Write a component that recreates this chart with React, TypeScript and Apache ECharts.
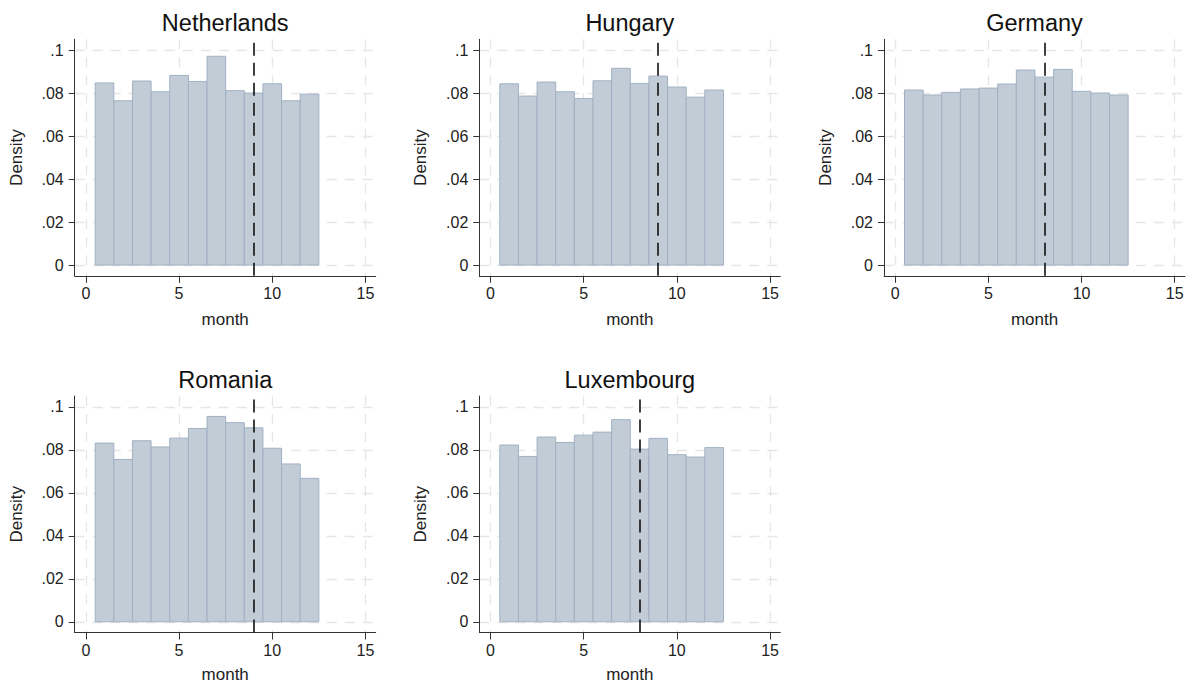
import React, { useEffect, useRef } from "react";
import * as echarts from "echarts";

// ---- Data ----
const countries = ["Netherlands", "Hungary", "Germany", "Romania", "Luxembourg"];
const months = [1, 2, 3, 4, 5, 6, 7, 8, 9, 10, 11, 12];
const netherlands = [0.0847, 0.0764, 0.0856, 0.0806, 0.0882, 0.0854, 0.0971, 0.0811, 0.08, 0.0843, 0.0764, 0.0795];
const hungary = [0.0843, 0.0786, 0.0851, 0.0806, 0.0775, 0.0857, 0.0915, 0.0845, 0.0879, 0.0828, 0.0781, 0.0814];
const germany = [0.0814, 0.0791, 0.0803, 0.0819, 0.0823, 0.0842, 0.0907, 0.0874, 0.091, 0.0808, 0.08, 0.0791];
const romania = [0.0831, 0.0755, 0.0842, 0.0813, 0.0854, 0.0899, 0.0955, 0.0926, 0.0902, 0.0807, 0.0734, 0.0667];
const luxembourg = [0.0822, 0.0769, 0.0859, 0.0834, 0.0868, 0.0882, 0.094, 0.0803, 0.0853, 0.0777, 0.0766, 0.081];
const cutoffMonths = [9, 9, 8, 9, 8];
const xTicks = [0, 5, 10, 15];
const yTicks = [0, 0.02, 0.04, 0.06, 0.08, 0.1];
const xAxisTitle = "month";
const yAxisTitle = "Density";

const densities = [netherlands, hungary, germany, romania, luxembourg];

// ---- Layout ----
const colLeft = [74.7, 479.3, 884];
const rowTop = [39.3, 396];
const monthGap = [36, 34];
const plotW = 301;
const plotH = 236.5;
const FONT = "'Liberation Sans', Arial, sans-serif";
const BAR_FILL = "#c1ccd7";
const BAR_STROKE = "#a1b1c3";
const GRID_COLOR = "#e6e6e6";
const AXIS_COLOR = "#333333";

export default function App() {
  const ref = useRef<HTMLDivElement>(null);

  useEffect(() => {
    if (!ref.current) return;
    const chart = echarts.init(ref.current, undefined, { renderer: "svg" });

    const grids: any[] = [];
    const xAxes: any[] = [];
    const yAxes: any[] = [];
    const titles: any[] = [];
    const series: any[] = [];

    countries.forEach((name, i) => {
      const col = i % 3;
      const row = Math.floor(i / 3);
      const left = colLeft[col];
      const top = rowTop[row];
      grids.push({
        left,
        top,
        width: plotW,
        height: plotH,
        containLabel: false,
        outerBoundsMode: "none",
      });
      titles.push({
        text: name,
        left: left + plotW / 2,
        top: top - 28,
        padding: 0,
        textAlign: "center",
        textStyle: { fontFamily: FONT, fontSize: 23.5, fontWeight: "normal", color: "#111" },
      });
      xAxes.push({
        type: "value",
        gridIndex: i,
        min: -0.6,
        max: 15.55,
        name: xAxisTitle,
        nameLocation: "middle",
        nameGap: monthGap[row],
        nameTextStyle: { fontFamily: FONT, fontSize: 17, lineHeight: 16, color: "#222" },
        axisLine: { show: true, onZero: false, lineStyle: { color: AXIS_COLOR, width: 1 } },
        axisTick: { show: true, length: 7, customValues: xTicks, lineStyle: { color: AXIS_COLOR } },
        axisLabel: {
          customValues: xTicks,
          margin: 10,
          fontFamily: FONT,
          fontSize: 16,
          color: "#222",
          showMinLabel: true,
          showMaxLabel: true,
        },
        splitLine: { show: true, lineStyle: { color: GRID_COLOR, width: 1.3, type: [10, 8] } },
      });
      yAxes.push({
        type: "value",
        gridIndex: i,
        min: -0.005,
        max: 0.105,
        name: yAxisTitle,
        nameLocation: "middle",
        nameGap: 50,
        nameTextStyle: { fontFamily: FONT, fontSize: 17, color: "#222" },
        axisLine: { show: true, onZero: false, lineStyle: { color: AXIS_COLOR, width: 1 } },
        axisTick: { show: true, length: 6, customValues: yTicks, lineStyle: { color: AXIS_COLOR } },
        axisLabel: {
          customValues: yTicks,
          margin: 11,
          fontFamily: FONT,
          fontSize: 16,
          color: "#222",
          formatter: (v: number) => (v === 0 ? "0" : String(Number(v.toFixed(2))).replace(/^0\./, ".")),
        },
        splitLine: { show: true, lineStyle: { color: GRID_COLOR, width: 1.3, type: [10, 8] } },
      });
      series.push({
        type: "custom",
        xAxisIndex: i,
        yAxisIndex: i,
        encode: { x: 0, y: 1 },
        data: months.map((m, k) => [m, densities[i][k]]),
        renderItem: (params: any, api: any) => {
          const x = api.value(0);
          const y = api.value(1);
          const p0 = api.coord([x - 0.5, y]);
          const p1 = api.coord([x + 0.5, 0]);
          return {
            type: "rect",
            shape: { x: p0[0], y: p0[1], width: p1[0] - p0[0], height: p1[1] - p0[1] },
            style: { fill: BAR_FILL, stroke: BAR_STROKE, lineWidth: 1 },
          };
        },
        markLine: {
          silent: true,
          symbol: ["none", "none"],
          label: { show: false },
          lineStyle: { color: "#111", width: 1.6, type: [13, 7] },
          data: [{ xAxis: cutoffMonths[i] }],
        },
      });
    });

    chart.setOption({
      animation: false,
      backgroundColor: "#ffffff",
      title: titles,
      grid: grids,
      xAxis: xAxes,
      yAxis: yAxes,
      series,
    });

    return () => chart.dispose();
  }, []);

  return (
    <div
      ref={ref}
      style={{ position: "fixed", left: 0, top: 0, width: 1186, height: 683, background: "#fff" }}
    />
  );
}
